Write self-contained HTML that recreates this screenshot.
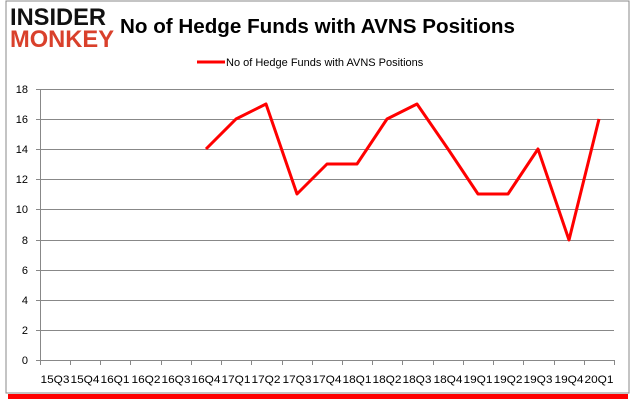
<!DOCTYPE html>
<html><head><style>
body{margin:0;background:#fff;}
</style></head><body>
<svg width="635" height="405" xmlns="http://www.w3.org/2000/svg" style="display:block;font-family:'Liberation Sans',sans-serif">
<rect x="0" y="0" width="635" height="405" fill="#fff"/>
<rect x="8" y="394" width="620" height="5" fill="#ff0000"/>
<rect x="6" y="1" width="623" height="392" fill="#fff" stroke="#888" stroke-width="1"/>
<text x="10" y="25" font-size="24" font-weight="bold" fill="#111" textLength="96" lengthAdjust="spacingAndGlyphs">INSIDER</text>
<text x="10" y="47" font-size="24" font-weight="bold" fill="#d9402b" textLength="104" lengthAdjust="spacingAndGlyphs">MONKEY</text>
<text x="120" y="33" font-size="20" font-weight="bold" fill="#000" textLength="395" lengthAdjust="spacingAndGlyphs">No of Hedge Funds with AVNS Positions</text>
<line x1="197" y1="62" x2="225" y2="62" stroke="#ff0000" stroke-width="3"/>
<text x="226" y="66" font-size="11" fill="#000">No of Hedge Funds with AVNS Positions</text>
<g stroke="#888" stroke-width="1">
<line x1="36" y1="360.5" x2="614" y2="360.5"/>
<line x1="36" y1="330.5" x2="614" y2="330.5"/>
<line x1="36" y1="300.5" x2="614" y2="300.5"/>
<line x1="36" y1="270.5" x2="614" y2="270.5"/>
<line x1="36" y1="240.5" x2="614" y2="240.5"/>
<line x1="36" y1="209.5" x2="614" y2="209.5"/>
<line x1="36" y1="179.5" x2="614" y2="179.5"/>
<line x1="36" y1="149.5" x2="614" y2="149.5"/>
<line x1="36" y1="119.5" x2="614" y2="119.5"/>
<line x1="36" y1="89.5" x2="614" y2="89.5"/>
<line x1="40.5" y1="89" x2="40.5" y2="365"/>
</g>
<g font-size="11" fill="#000" text-anchor="end">
<text x="28" y="364">0</text><text x="28" y="334">2</text><text x="28" y="304">4</text><text x="28" y="274">6</text><text x="28" y="244">8</text><text x="28" y="213">10</text><text x="28" y="183">12</text><text x="28" y="153">14</text><text x="28" y="123">16</text><text x="28" y="93">18</text>
</g>
<g stroke="#888">
<line x1="70.5" y1="360" x2="70.5" y2="365"/><line x1="100.5" y1="360" x2="100.5" y2="365"/><line x1="130.5" y1="360" x2="130.5" y2="365"/><line x1="161.5" y1="360" x2="161.5" y2="365"/><line x1="191.5" y1="360" x2="191.5" y2="365"/><line x1="221.5" y1="360" x2="221.5" y2="365"/><line x1="251.5" y1="360" x2="251.5" y2="365"/><line x1="282.5" y1="360" x2="282.5" y2="365"/><line x1="312.5" y1="360" x2="312.5" y2="365"/><line x1="342.5" y1="360" x2="342.5" y2="365"/><line x1="372.5" y1="360" x2="372.5" y2="365"/><line x1="402.5" y1="360" x2="402.5" y2="365"/><line x1="433.5" y1="360" x2="433.5" y2="365"/><line x1="463.5" y1="360" x2="463.5" y2="365"/><line x1="493.5" y1="360" x2="493.5" y2="365"/><line x1="523.5" y1="360" x2="523.5" y2="365"/><line x1="554.5" y1="360" x2="554.5" y2="365"/><line x1="584.5" y1="360" x2="584.5" y2="365"/><line x1="614.5" y1="360" x2="614.5" y2="365"/>
</g>
<g font-size="11" fill="#000" text-anchor="middle">
<text x="55" y="383" textLength="29" lengthAdjust="spacingAndGlyphs">15Q3</text><text x="85" y="383" textLength="29" lengthAdjust="spacingAndGlyphs">15Q4</text><text x="115" y="383" textLength="29" lengthAdjust="spacingAndGlyphs">16Q1</text><text x="146" y="383" textLength="29" lengthAdjust="spacingAndGlyphs">16Q2</text><text x="176" y="383" textLength="29" lengthAdjust="spacingAndGlyphs">16Q3</text><text x="206" y="383" textLength="29" lengthAdjust="spacingAndGlyphs">16Q4</text><text x="236" y="383" textLength="29" lengthAdjust="spacingAndGlyphs">17Q1</text><text x="266" y="383" textLength="29" lengthAdjust="spacingAndGlyphs">17Q2</text><text x="297" y="383" textLength="29" lengthAdjust="spacingAndGlyphs">17Q3</text><text x="327" y="383" textLength="29" lengthAdjust="spacingAndGlyphs">17Q4</text><text x="357" y="383" textLength="29" lengthAdjust="spacingAndGlyphs">18Q1</text><text x="387" y="383" textLength="29" lengthAdjust="spacingAndGlyphs">18Q2</text><text x="417" y="383" textLength="29" lengthAdjust="spacingAndGlyphs">18Q3</text><text x="448" y="383" textLength="29" lengthAdjust="spacingAndGlyphs">18Q4</text><text x="478" y="383" textLength="29" lengthAdjust="spacingAndGlyphs">19Q1</text><text x="508" y="383" textLength="29" lengthAdjust="spacingAndGlyphs">19Q2</text><text x="538" y="383" textLength="29" lengthAdjust="spacingAndGlyphs">19Q3</text><text x="569" y="383" textLength="29" lengthAdjust="spacingAndGlyphs">19Q4</text><text x="599" y="383" textLength="29" lengthAdjust="spacingAndGlyphs">20Q1</text>
</g>
<polyline fill="none" stroke="#ff0000" stroke-width="3" stroke-linejoin="round" points="206,149 236,119 266,104 297,194 327,164 357,164 387,119 417,104 448,149 478,194 508,194 538,149 569,240 599,119"/>
</svg>
</body></html>
